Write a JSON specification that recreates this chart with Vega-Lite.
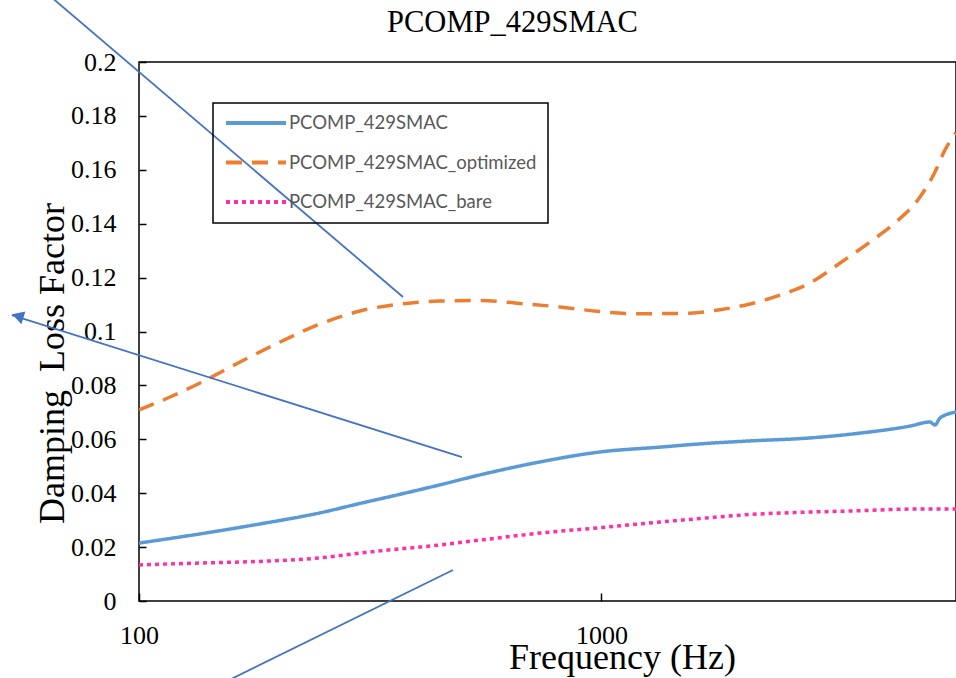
{
  "$schema": "https://vega.github.io/schema/vega-lite/v6.json",
  "width": 817,
  "height": 539,
  "autosize": "none",
  "padding": {"left": 139, "top": 62, "right": 0, "bottom": 77},
  "background": "white",
  "title": {
    "text": "PCOMP_429SMAC",
    "font": "Liberation Serif",
    "fontSize": 30.5,
    "fontWeight": "normal",
    "color": "black",
    "anchor": "middle",
    "dx": -35,
    "offset": -49
  },
  "datasets": {
    "curves": [
      {"f": 100, "v": 0.0215, "s": "PCOMP_429SMAC"},
      {"f": 135.5, "v": 0.0249, "s": "PCOMP_429SMAC"},
      {"f": 182.7, "v": 0.0286, "s": "PCOMP_429SMAC"},
      {"f": 246.2, "v": 0.0327, "s": "PCOMP_429SMAC"},
      {"f": 300.5, "v": 0.0362, "s": "PCOMP_429SMAC"},
      {"f": 364.9, "v": 0.0395, "s": "PCOMP_429SMAC"},
      {"f": 445.0, "v": 0.0430, "s": "PCOMP_429SMAC"},
      {"f": 546.2, "v": 0.0468, "s": "PCOMP_429SMAC"},
      {"f": 736.2, "v": 0.0516, "s": "PCOMP_429SMAC"},
      {"f": 992.6, "v": 0.0553, "s": "PCOMP_429SMAC"},
      {"f": 1338, "v": 0.0571, "s": "PCOMP_429SMAC"},
      {"f": 1633, "v": 0.0583, "s": "PCOMP_429SMAC"},
      {"f": 2095, "v": 0.0594, "s": "PCOMP_429SMAC"},
      {"f": 2824, "v": 0.0605, "s": "PCOMP_429SMAC"},
      {"f": 3623, "v": 0.0623, "s": "PCOMP_429SMAC"},
      {"f": 4645, "v": 0.0649, "s": "PCOMP_429SMAC"},
      {"f": 5132, "v": 0.0664, "s": "PCOMP_429SMAC"},
      {"f": 5262, "v": 0.0653, "s": "PCOMP_429SMAC"},
      {"f": 5396, "v": 0.0679, "s": "PCOMP_429SMAC"},
      {"f": 5842, "v": 0.0701, "s": "PCOMP_429SMAC"},
      {"f": 100, "v": 0.0709, "s": "PCOMP_429SMAC_optimized"},
      {"f": 116.7, "v": 0.0757, "s": "PCOMP_429SMAC_optimized"},
      {"f": 135.5, "v": 0.0809, "s": "PCOMP_429SMAC_optimized"},
      {"f": 165.4, "v": 0.0887, "s": "PCOMP_429SMAC_optimized"},
      {"f": 201.8, "v": 0.0961, "s": "PCOMP_429SMAC_optimized"},
      {"f": 246.2, "v": 0.1028, "s": "PCOMP_429SMAC_optimized"},
      {"f": 300.5, "v": 0.1076, "s": "PCOMP_429SMAC_optimized"},
      {"f": 366.7, "v": 0.1102, "s": "PCOMP_429SMAC_optimized"},
      {"f": 447.6, "v": 0.1113, "s": "PCOMP_429SMAC_optimized"},
      {"f": 546.2, "v": 0.1115, "s": "PCOMP_429SMAC_optimized"},
      {"f": 666.6, "v": 0.1104, "s": "PCOMP_429SMAC_optimized"},
      {"f": 813.4, "v": 0.1091, "s": "PCOMP_429SMAC_optimized"},
      {"f": 992.6, "v": 0.1074, "s": "PCOMP_429SMAC_optimized"},
      {"f": 1211, "v": 0.1066, "s": "PCOMP_429SMAC_optimized"},
      {"f": 1554, "v": 0.1068, "s": "PCOMP_429SMAC_optimized"},
      {"f": 1804, "v": 0.1081, "s": "PCOMP_429SMAC_optimized"},
      {"f": 2095, "v": 0.1102, "s": "PCOMP_429SMAC_optimized"},
      {"f": 2432, "v": 0.1135, "s": "PCOMP_429SMAC_optimized"},
      {"f": 2824, "v": 0.118, "s": "PCOMP_429SMAC_optimized"},
      {"f": 3280, "v": 0.1254, "s": "PCOMP_429SMAC_optimized"},
      {"f": 3806, "v": 0.1332, "s": "PCOMP_429SMAC_optimized"},
      {"f": 4312, "v": 0.1403, "s": "PCOMP_429SMAC_optimized"},
      {"f": 4883, "v": 0.1499, "s": "PCOMP_429SMAC_optimized"},
      {"f": 5262, "v": 0.1592, "s": "PCOMP_429SMAC_optimized"},
      {"f": 5531, "v": 0.1674, "s": "PCOMP_429SMAC_optimized"},
      {"f": 5842, "v": 0.1737, "s": "PCOMP_429SMAC_optimized"},
      {"f": 100, "v": 0.0134, "s": "PCOMP_429SMAC_bare"},
      {"f": 135.5, "v": 0.0141, "s": "PCOMP_429SMAC_bare"},
      {"f": 182.7, "v": 0.0147, "s": "PCOMP_429SMAC_bare"},
      {"f": 246.2, "v": 0.016, "s": "PCOMP_429SMAC_bare"},
      {"f": 300.5, "v": 0.0178, "s": "PCOMP_429SMAC_bare"},
      {"f": 364.9, "v": 0.0193, "s": "PCOMP_429SMAC_bare"},
      {"f": 405.1, "v": 0.02, "s": "PCOMP_429SMAC_bare"},
      {"f": 546.2, "v": 0.0226, "s": "PCOMP_429SMAC_bare"},
      {"f": 736.2, "v": 0.0252, "s": "PCOMP_429SMAC_bare"},
      {"f": 992.6, "v": 0.0272, "s": "PCOMP_429SMAC_bare"},
      {"f": 1338, "v": 0.0293, "s": "PCOMP_429SMAC_bare"},
      {"f": 1633, "v": 0.0306, "s": "PCOMP_429SMAC_bare"},
      {"f": 2095, "v": 0.0321, "s": "PCOMP_429SMAC_bare"},
      {"f": 2824, "v": 0.033, "s": "PCOMP_429SMAC_bare"},
      {"f": 3623, "v": 0.0335, "s": "PCOMP_429SMAC_bare"},
      {"f": 4645, "v": 0.0341, "s": "PCOMP_429SMAC_bare"},
      {"f": 5842, "v": 0.0341, "s": "PCOMP_429SMAC_bare"}
    ],
    "arrows": [
      {"f": 62.0, "v": 0.2267, "f2": 372.2, "v2": 0.1128},
      {"f": 499.3, "v": 0.0534, "f2": 53.1, "v2": 0.1061},
      {"f": 477.4, "v": 0.0115, "f2": 141.7, "v2": -0.033}
    ],
    "heads": [
      {"f": 55.2, "v": 0.1055}
    ]
  },
  "layer": [
    {
      "data": {"name": "curves"},
      "mark": {"type": "line", "strokeWidth": 3.5, "strokeCap": "butt", "clip": true, "interpolate": "monotone"},
      "encoding": {
        "x": {
          "field": "f",
          "type": "quantitative",
          "scale": {"type": "log", "domain": [100, 5842], "nice": false},
          "axis": {
            "title": "Frequency (Hz)",
            "values": [100, 1000],
            "format": "d",
            "labelFlush": false,
            "tickSize": -8,
            "labelPadding": 29.5,
            "titleX": 483,
            "titleY": 67,
            "titleAlign": "center",
            "titleBaseline": "alphabetic"
          }
        },
        "y": {
          "field": "v",
          "type": "quantitative",
          "scale": {"domain": [0, 0.2], "nice": false, "zero": false},
          "axis": {
            "title": "Damping\u00a0 Loss Factor",
            "values": [0, 0.02, 0.04, 0.06, 0.08, 0.1, 0.12, 0.14, 0.16, 0.18, 0.2],
            "format": "~g",
            "labelFlush": false,
            "tickSize": -7,
            "labelPadding": 30,
            "titleAngle": -90,
            "titleX": -76,
            "titleY": 301,
            "titleAlign": "center",
            "titleBaseline": "alphabetic"
          }
        },
        "color": {
          "field": "s",
          "type": "nominal",
          "title": null,
          "scale": {
            "domain": ["PCOMP_429SMAC", "PCOMP_429SMAC_optimized", "PCOMP_429SMAC_bare"],
            "range": ["#5B9BD5", "#ED7D31", "#FF2FA8"]
          }
        },
        "strokeDash": {
          "field": "s",
          "type": "nominal",
          "title": null,
          "scale": {
            "domain": ["PCOMP_429SMAC", "PCOMP_429SMAC_optimized", "PCOMP_429SMAC_bare"],
            "range": [[1, 0], [16, 10], [4, 4]]
          }
        }
      }
    },
    {
      "data": {"name": "arrows"},
      "mark": {"type": "rule", "color": "#4472C4", "strokeWidth": 1.8},
      "encoding": {
        "x": {"field": "f", "type": "quantitative"},
        "x2": {"field": "f2"},
        "y": {"field": "v", "type": "quantitative"},
        "y2": {"field": "v2"}
      }
    },
    {
      "data": {"name": "heads"},
      "mark": {"type": "point", "shape": "triangle", "filled": true, "size": 180, "angle": 287.5, "color": "#4472C4", "opacity": 1},
      "encoding": {
        "x": {"field": "f", "type": "quantitative"},
        "y": {"field": "v", "type": "quantitative"}
      }
    }
  ],
  "config": {
    "view": {"stroke": "black", "strokeWidth": 1.5},
    "axis": {
      "grid": false,
      "domain": false,
      "tickColor": "black",
      "tickWidth": 1.5,
      "labelFont": "Liberation Serif",
      "labelFontSize": 26,
      "labelColor": "black",
      "titleFont": "Liberation Serif",
      "titleFontSize": 36,
      "titleFontWeight": "normal",
      "titleColor": "black"
    },
    "legend": {
      "orient": "none",
      "legendX": 74,
      "legendY": 41,
      "strokeColor": "black",
      "strokeWidth": 1.5,
      "padding": 11,
      "rowPadding": 20.5,
      "clipHeight": 18,
      "labelFont": "Lato",
      "labelFontSize": 18.5,
      "labelColor": "#595959",
      "labelLimit": 400,
      "labelOffset": 1,
      "symbolType": "stroke",
      "symbolSize": 3600,
      "symbolStrokeWidth": 4
    }
  }
}
